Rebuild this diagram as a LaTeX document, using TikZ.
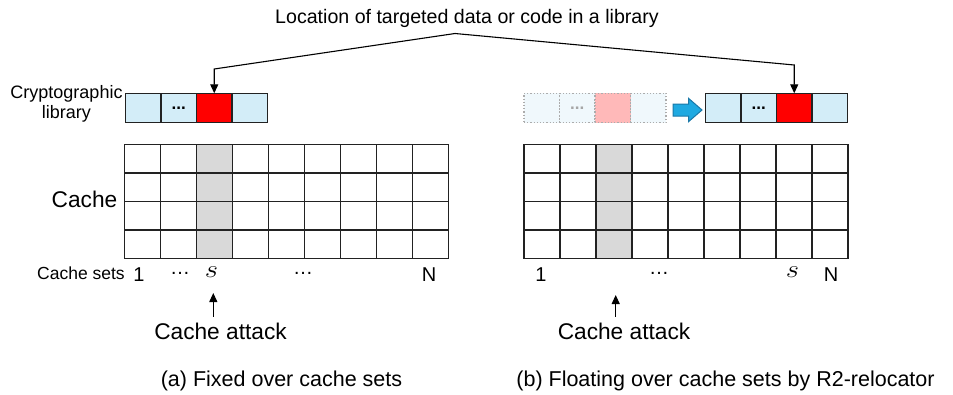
\documentclass[tikz,border=0pt]{standalone}
\usepackage{fontspec}
\setmainfont{Liberation Sans}
\usetikzlibrary{arrows.meta,calc}
\definecolor{libblue}{HTML}{D3EDF8}
\definecolor{libred}{HTML}{FF0000}
\definecolor{fadeblue}{HTML}{F0F8FC}
\definecolor{fadered}{HTML}{FFB9B9}
\definecolor{setgray}{HTML}{D9D9D9}
\definecolor{linegray}{HTML}{222222}
\definecolor{arrowblue}{HTML}{1FA9E1}
\definecolor{arrowedge}{HTML}{1A78A8}
\tikzset{
  libcell/.style={draw=linegray, line width=1.5pt, minimum width=35.5pt, minimum height=29.4pt, inner sep=0pt, outer sep=0pt},
  fadecell/.style={draw=gray!65, dotted, line width=1.2pt, minimum width=35.5pt, minimum height=29.4pt, inner sep=0pt, outer sep=0pt, fill=fadeblue},
  dotsfont/.style={font=\fontsize{17}{20}\selectfont\bfseries},
  gridline/.style={draw=linegray, line width=1.3pt},
  gridbox/.style={draw=linegray, line width=1.3pt, minimum width=324pt, minimum height=113.6pt, inner sep=0pt, outer sep=0pt},
  tip/.style={-{Triangle[length=9pt,width=8pt]}, line width=1.1pt},
  lbl/.style={inner sep=0pt, font=\fontsize{20}{22}\selectfont},
  slbl/.style={inner sep=0pt, font=\fontsize{25}{26}\selectfont},
}
\begin{document}
\begin{tikzpicture}[x=1pt,y=-1pt]
\useasboundingbox (0,0) rectangle (953,394);

% title
\node[inner sep=0pt, font=\fontsize{19.6}{22}\selectfont] (title) at (467,18) {Location of targeted data or code in a library};
\coordinate (apex) at (455,33.5);

% left library
\node[libcell, fill=libblue] (la1) at (143.25,108) {};
\node[libcell, fill=libblue, dotsfont] (la2) at (178.75,108) {...};
\node[libcell, fill=libred] (la3) at (214.25,108) {};
\node[libcell, fill=libblue] (la4) at (249.75,108) {};
\node[align=center, inner sep=0pt, font=\fontsize{18}{20.5}\selectfont] (crypto) at (66.5,104) {Cryptographic\\library};

% right faded library
\node[fadecell] (fb1) at (541.75,108) {};
\node[fadecell, text=gray!70, dotsfont] (fb2) at (577.25,108) {...};
\node[fadecell, fill=fadered] (fb3) at (612.75,108) {};
\node[fadecell] (fb4) at (648.25,108) {};

% right library
\node[libcell, fill=libblue] (rb1) at (723.25,108) {};
\node[libcell, fill=libblue, dotsfont] (rb2) at (758.75,108) {...};
\node[libcell, fill=libred] (rb3) at (794.25,108) {};
\node[libcell, fill=libblue] (rb4) at (829.75,108) {};

% blue relocation arrow
\draw[fill=arrowblue, draw=arrowedge, line width=1pt, line join=miter]
  (673,104) -- (688.5,104) -- (688.5,98.3) -- (702,110) -- (688.5,121.7) -- (688.5,116) -- (673,116) -- cycle;

% connectors from title
\draw[tip] (apex) -- (la3.north |- 0,69) -- (la3.north);
\draw[tip] (apex) -- (rb3.north |- 0,65) -- (rb3.north);

% left grid
\fill[setgray] (196.7,144.7) rectangle (232.7,258.3);
\foreach \i in {1,...,8} \draw[gridline] (124.7+\i*36,144.7) -- ++(0,113.6);
\foreach \j in {1,2,3} \draw[gridline] (124.7,144.7+\j*28.4) -- ++(324,0);
\node[gridbox] (ga) at (286.7,201.5) {};

% right grid
\fill[setgray] (596,144.7) rectangle (632,258.3);
\foreach \i in {1,...,8} \draw[gridline] (524+\i*36,144.7) -- ++(0,113.6);
\foreach \j in {1,2,3} \draw[gridline] (524,144.7+\j*28.4) -- ++(324,0);
\node[gridbox] (gb) at (686,201.5) {};

% labels left
\node[inner sep=0pt, font=\fontsize{22.7}{24}\selectfont] (cache) at (84.5,199) {Cache};
\node[inner sep=0pt, font=\fontsize{17.5}{20}\selectfont] (sets) at (81,273) {Cache sets};
\node[lbl] (a1) at (139,275) {1};
\node[lbl] (ad1) at (180,273) {…};
\node[slbl] (as) at (211.5,272) {\scalebox{1.15}[1]{$s$}};
\node[lbl] (ad2) at (303,273) {…};
\node[lbl] (aN) at (429,275) {N};
\node[inner sep=0pt, font=\fontsize{22.7}{26}\selectfont] (atkA) at (220.5,331) {Cache attack};
\coordinate (atkAbot) at (213.3,316.7);
\draw[tip] (atkAbot) -- (213.3,293);

% labels right
\node[lbl] (b1) at (541,275) {1};
\node[lbl] (bd1) at (659,273) {…};
\node[slbl] (bs) at (792.5,272) {\scalebox{1.15}[1]{$s$}};
\node[lbl] (bN) at (831,275) {N};
\node[inner sep=0pt, font=\fontsize{22.7}{26}\selectfont] (atkB) at (624,331) {Cache attack};
\coordinate (atkBbot) at (615.7,316.7);
\draw[tip] (atkBbot) -- (615.7,295);

% captions
\node[inner sep=0pt, font=\fontsize{21.5}{24}\selectfont] (capA) at (281.5,381) {(a) Fixed over cache sets};
\node[inner sep=0pt, font=\fontsize{21.5}{24}\selectfont] (capB) at (725.5,381) {(b) Floating over cache sets by R2-relocator};
\end{tikzpicture}
\end{document}
